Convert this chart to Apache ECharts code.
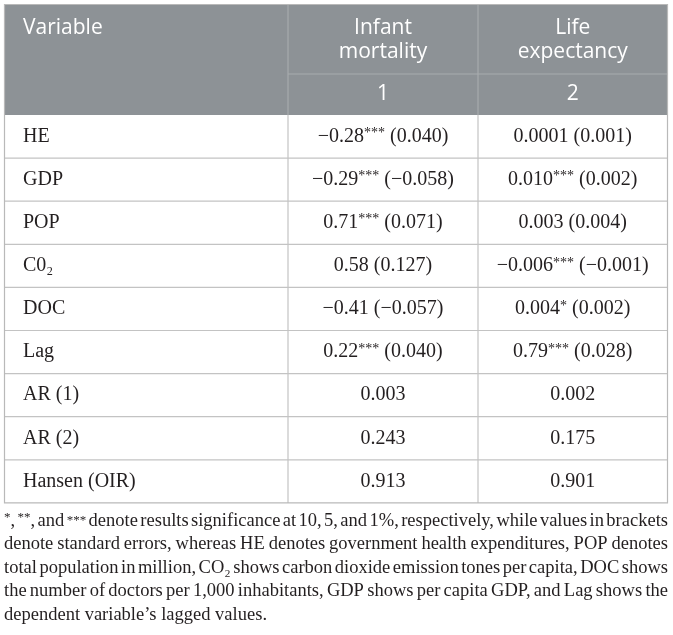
<!DOCTYPE html>
<html>
<head>
<meta charset="utf-8">
<script src="https://cdn.jsdelivr.net/npm/echarts@6/dist/echarts.min.js"></script>
<style>
html, body { margin: 0; padding: 0; background: #fff; }
#main { width: 673px; height: 635px; }
</style>
</head>
<body>
<div id="main"></div>
<script>
// table content
var headers = ['Variable', 'Infant\nmortality', 'Life\nexpectancy'];
var modelNumbers = ['1', '2'];
var variables = ['HE', 'GDP', 'POP', 'C0₂', 'DOC', 'Lag', 'AR (1)', 'AR (2)', 'Hansen (OIR)'];
var infantCoef = ['−0.28', '−0.29', '0.71', '0.58', '−0.41', '0.22', '0.003', '0.243', '0.913'];
var infantStars = ['***', '***', '***', '', '', '***', '', '', ''];
var infantSE = ['(0.040)', '(−0.058)', '(0.071)', '(0.127)', '(−0.057)', '(0.040)', '', '', ''];
var lifeCoef = ['0.0001', '0.010', '0.003', '−0.006', '0.004', '0.79', '0.002', '0.175', '0.901'];
var lifeStars = ['', '***', '', '***', '*', '***', '', '', ''];
var lifeSE = ['(0.001)', '(0.002)', '(0.004)', '(−0.001)', '(0.002)', '(0.028)', '', '', ''];
var noteLines = [
    '{s|*}, {s|**}, and {s|***} denote results significance at 10, 5, and 1%, respectively, while values in brackets',
    'denote standard errors, whereas HE denotes government health expenditures, POP denotes',
    'total population in million, CO₂ shows carbon dioxide emission tones per capita, DOC shows',
    'the number of doctors per 1,000 inhabitants, GDP shows per capita GDP, and Lag shows the',
    'dependent variable’s lagged values.'
];

var chart = echarts.init(document.getElementById('main'));

var tabLeft = 4.5, tabRight = 667.5, tabTop = 4.5;
var col1 = 288, col2 = 478;
var subLine = 74, headBottom = 115;
var rowH = 43.1;
var bodyBottom = headBottom + rowH * variables.length;
var headGray = '#8d9296';
var lineGray = '#c3c3c3';
var ink = '#231f20';
var serif = '"Liberation Serif", "Times New Roman", serif';
var sans = '"Open Sans", "DejaVu Sans", sans-serif';

var cellRich = {
    v: { font: '20px ' + serif, fill: ink },
    s: { font: '14px ' + serif, fill: ink, verticalAlign: 'top' }
};
var noteFont = '18.5px ' + serif;
var noteRich = {
    s: { font: '13px ' + serif, fill: ink, verticalAlign: 'top' }
};

function cellText(coef, stars, se) {
    var s = '{v|' + coef + '}';
    if (stars) s += '{s|' + stars + '}';
    if (se) s += '{v| ' + se + '}';
    return s;
}

function line(x1, y1, x2, y2, color) {
    return {
        type: 'line', silent: true,
        shape: { x1: x1, y1: y1, x2: x2, y2: y2 },
        style: { stroke: color, lineWidth: 1.2 }
    };
}

function text(x, y, str, font, fill, align, rich, extra) {
    var st = {
        text: str, font: font, fill: fill,
        align: align, verticalAlign: 'middle'
    };
    if (rich) st.rich = rich;
    if (extra) for (var k in extra) st[k] = extra[k];
    return { type: 'text', x: x, y: y, silent: true, style: st };
}

var els = [];

// header block
els.push({ type: 'rect', shape: { x: tabLeft, y: tabTop, width: tabRight - tabLeft, height: headBottom - tabTop }, style: { fill: headGray } });
els.push(line(col1, tabTop, col1, headBottom, '#a7abae'));
els.push(line(col2, tabTop, col2, headBottom, '#a7abae'));
els.push(line(col1, subLine, tabRight, subLine, '#a7abae'));

els.push(text(23, 28, headers[0], '21px ' + sans, '#fff', 'left'));
els.push(text((col1 + col2) / 2, 40, headers[1], '21px ' + sans, '#fff', 'center', null, { lineHeight: 24 }));
els.push(text((col2 + tabRight) / 2, 40, headers[2], '21px ' + sans, '#fff', 'center', null, { lineHeight: 24 }));
els.push(text((col1 + col2) / 2, (subLine + headBottom) / 2, modelNumbers[0], '21px ' + sans, '#fff', 'center'));
els.push(text((col2 + tabRight) / 2, (subLine + headBottom) / 2, modelNumbers[1], '21px ' + sans, '#fff', 'center'));

// body rows
for (var i = 0; i < variables.length; i++) {
    var yTop = headBottom + rowH * i;
    var yc = yTop + rowH / 2;
    if (i > 0) els.push(line(tabLeft, yTop, tabRight, yTop, lineGray));
    els.push(text(23, yc, variables[i], '20px ' + serif, ink, 'left'));
    els.push(text((col1 + col2) / 2, yc, cellText(infantCoef[i], infantStars[i], infantSE[i]), '20px ' + serif, ink, 'center', cellRich));
    els.push(text((col2 + tabRight) / 2, yc, cellText(lifeCoef[i], lifeStars[i], lifeSE[i]), '20px ' + serif, ink, 'center', cellRich));
}
els.push(line(col1, headBottom, col1, bodyBottom, lineGray));
els.push(line(col2, headBottom, col2, bodyBottom, lineGray));
// outer frame
els.push({ type: 'rect', shape: { x: tabLeft, y: tabTop, width: tabRight - tabLeft, height: bodyBottom - tabTop }, style: { fill: null, stroke: '#b9b9b9', lineWidth: 1.2 } });

// footnote, justified like the source
function measure(str) {
    var t = new echarts.graphic.Text({ style: { text: str, font: noteFont, rich: noteRich } });
    return t.getBoundingRect().width;
}
var noteLeft = 4, noteRight = 668, noteTop = 521, noteStep = 23.5;
noteLines.forEach(function (ln, li) {
    var y = noteTop + noteStep * li;
    if (li === noteLines.length - 1) {
        els.push(text(noteLeft, y, ln, noteFont, ink, 'left', noteRich));
        return;
    }
    var words = ln.split(' ');
    var widths = words.map(measure);
    var total = widths.reduce(function (a, b) { return a + b; }, 0);
    var gap = (noteRight - noteLeft - total) / (words.length - 1);
    var x = noteLeft;
    words.forEach(function (w, wi) {
        els.push(text(x, y, w, noteFont, ink, 'left', noteRich));
        x += widths[wi] + gap;
    });
});

chart.setOption({
    backgroundColor: '#fff',
    animation: false,
    graphic: { elements: els }
});
</script>
</body>
</html>
